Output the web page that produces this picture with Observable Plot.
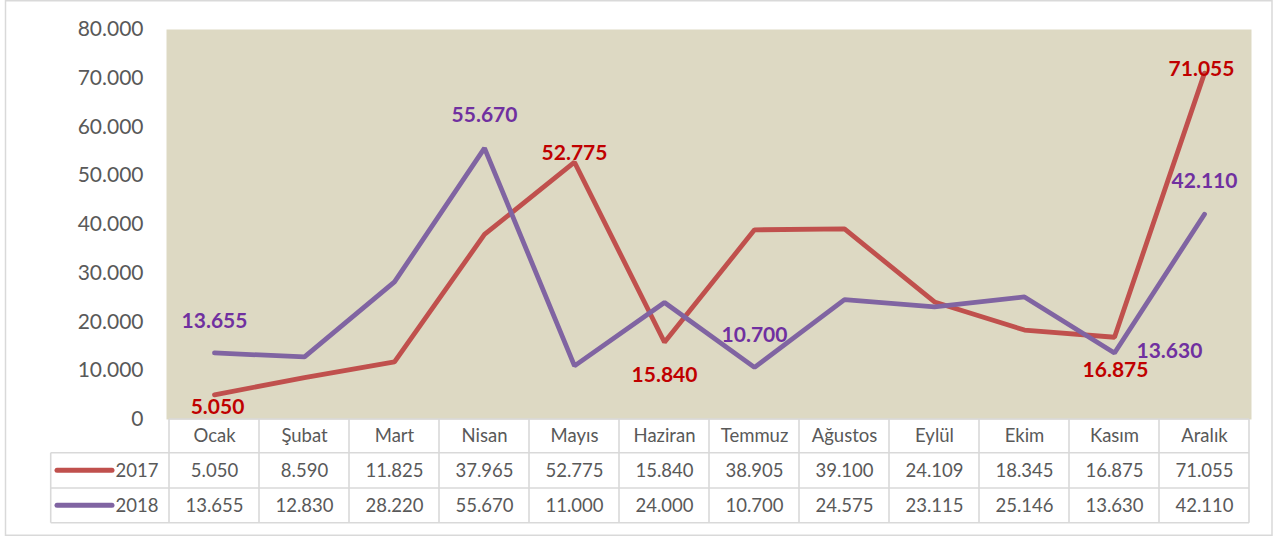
<!DOCTYPE html>
<html>
<head>
<meta charset="utf-8">
<script src="https://cdn.jsdelivr.net/npm/d3@7"></script>
<script src="https://cdn.jsdelivr.net/npm/@observablehq/plot@0.6"></script>
<style>
  html, body { margin: 0; padding: 0; background: #fff; }
  #chart { width: 1278px; height: 536px; }
</style>
</head>
<body>
<div id="chart"></div>
<script>
// ---- data ----
const months = ["Ocak", "Şubat", "Mart", "Nisan", "Mayıs", "Haziran", "Temmuz", "Ağustos", "Eylül", "Ekim", "Kasım", "Aralık"];
const years = ["2017", "2018"];
const values2017 = [5050, 8590, 11825, 37965, 52775, 15840, 38905, 39100, 24109, 18345, 16875, 71055];
const values2018 = [13655, 12830, 28220, 55670, 11000, 24000, 10700, 24575, 23115, 25146, 13630, 42110];
const yTicks = [0, 10000, 20000, 30000, 40000, 50000, 60000, 70000, 80000];
const labeled2017 = ["Ocak", "Mayıs", "Haziran", "Kasım", "Aralık"];
const labeled2018 = ["Ocak", "Nisan", "Temmuz", "Kasım", "Aralık"];

// ---- styling / layout ----
const W = 1278, H = 536;
const ML = 166, MR = 27, MT = 29, MB = 117;
const lineColor = {"2017": "#C0504D", "2018": "#8064A2"};
const labelColor = {"2017": "#C00000", "2018": "#7030A0"};
const textGray = "#595959";
const gridGray = "#D9D9D9";
const FONT = "Lato, 'Open Sans', sans-serif";

// label placement (pixel offsets from each point)
const placement = {
  "2017|Ocak":    {dx: 3,  dy: 12,  anchor: "middle"},
  "2017|Mayıs":   {dx: 0,  dy: -9,  anchor: "middle"},
  "2017|Haziran": {dx: 0,  dy: 33,  anchor: "middle"},
  "2017|Kasım":   {dx: 1,  dy: 33,  anchor: "middle"},
  "2017|Aralık":  {dx: -3, dy: -4,  anchor: "middle"},
  "2018|Ocak":    {dx: 0,  dy: -32, anchor: "middle"},
  "2018|Nisan":   {dx: 0,  dy: -33, anchor: "middle"},
  "2018|Temmuz":  {dx: 0,  dy: -32, anchor: "middle"},
  "2018|Kasım":   {dx: 22, dy: -2,  anchor: "start"},
  "2018|Aralık":  {dx: 0,  dy: -33, anchor: "middle"}
};

const fmt = d3.formatLocale({decimal: ",", thousands: ".", grouping: [3], currency: ["", ""]}).format(",d");

const series = {
  "2017": months.map((m, i) => ({month: m, year: "2017", value: values2017[i]})),
  "2018": months.map((m, i) => ({month: m, year: "2018", value: values2018[i]}))
};
const labeled = {"2017": labeled2017, "2018": labeled2018};

// table row geometry (px below frame bottom)
const rowEdges = [0, 33.7, 69, 103.7];
const rowCenter = k => (rowEdges[k] + rowEdges[k + 1]) / 2;
const legendLeft = 50.7;

function tableGrid(index, scales, values, dims) {
  const x = scales.x;
  const bw = x.bandwidth ? x.bandwidth() : (dims.width - dims.marginLeft - dims.marginRight) / months.length;
  const top = dims.height - dims.marginBottom;
  const x0 = x(months[0]);
  const xEnd = x(months[months.length - 1]) + bw;
  const g = d3.create("svg:g").attr("fill", "none");
  // outer chart border
  g.append("rect").attr("x", 5.5).attr("y", 0.75).attr("width", 1266.5).attr("height", 534.5)
    .attr("stroke", gridGray).attr("stroke-width", 1.5);
  // horizontal lines
  rowEdges.forEach((e, k) => {
    g.append("line")
      .attr("x1", k === 0 ? x0 : legendLeft).attr("x2", xEnd)
      .attr("y1", top + e).attr("y2", top + e)
      .attr("stroke", gridGray).attr("stroke-width", 1.6);
  });
  // vertical lines
  for (let k = 0; k <= months.length; k++) {
    const xx = k < months.length ? x(months[k]) : xEnd;
    g.append("line").attr("x1", xx).attr("x2", xx)
      .attr("y1", top).attr("y2", top + rowEdges[3])
      .attr("stroke", gridGray).attr("stroke-width", 1.6);
  }
  g.append("line").attr("x1", legendLeft).attr("x2", legendLeft)
    .attr("y1", top + rowEdges[1]).attr("y2", top + rowEdges[3])
    .attr("stroke", gridGray).attr("stroke-width", 1.6);
  // legend line samples
  years.forEach((yr, k) => {
    const yy = top + rowCenter(k + 1);
    g.append("line").attr("x1", 57).attr("x2", 112).attr("y1", yy).attr("y2", yy)
      .attr("stroke", lineColor[yr]).attr("stroke-width", 5).attr("stroke-linecap", "round");
  });
  return g.node();
}

const marks = [
  Plot.frame({fill: "#DDD9C3"}),
  tableGrid,
  Plot.axisY(yTicks, {tickSize: 0, tickPadding: 23, tickFormat: fmt, fontSize: 21, fill: textGray, label: null})
];

years.forEach(yr => {
  marks.push(Plot.line(series[yr], {
    x: "month", y: "value", stroke: lineColor[yr], strokeWidth: 4.8,
    strokeLinecap: "round", strokeLinejoin: "miter"
  }));
});

years.forEach(yr => {
  series[yr].filter(d => labeled[yr].includes(d.month)).forEach(d => {
    const p = placement[yr + "|" + d.month];
    marks.push(Plot.text([d], {
      x: "month", y: "value", text: v => fmt(v.value),
      dx: p.dx, dy: p.dy, textAnchor: p.anchor, lineAnchor: "middle",
      fill: labelColor[yr], fontWeight: "bold", fontSize: 21
    }));
  });
});

// table texts
marks.push(Plot.text(months, {x: d => d, text: d => d, frameAnchor: "bottom", lineAnchor: "middle", dy: rowCenter(0), fontSize: 18.5, fill: textGray}));
years.forEach((yr, k) => {
  marks.push(Plot.text(series[yr], {x: "month", text: d => fmt(d.value), frameAnchor: "bottom", lineAnchor: "middle", dy: rowCenter(k + 1), fontSize: 18.5, fill: textGray}));
  marks.push(Plot.text([yr], {text: d => d, frameAnchor: "bottom-left", lineAnchor: "middle", dx: -8, dy: rowCenter(k + 1), textAnchor: "end", fontSize: 18.5, fill: textGray}));
});

const chart = Plot.plot({
  width: W, height: H,
  marginLeft: ML, marginRight: MR, marginTop: MT, marginBottom: MB,
  style: {fontFamily: FONT, background: "#fff", overflow: "visible"},
  x: {type: "band", domain: months, padding: 0, axis: null},
  y: {domain: [0, 80000], axis: null},
  marks
});
document.getElementById("chart").appendChild(chart);
</script>
</body>
</html>
